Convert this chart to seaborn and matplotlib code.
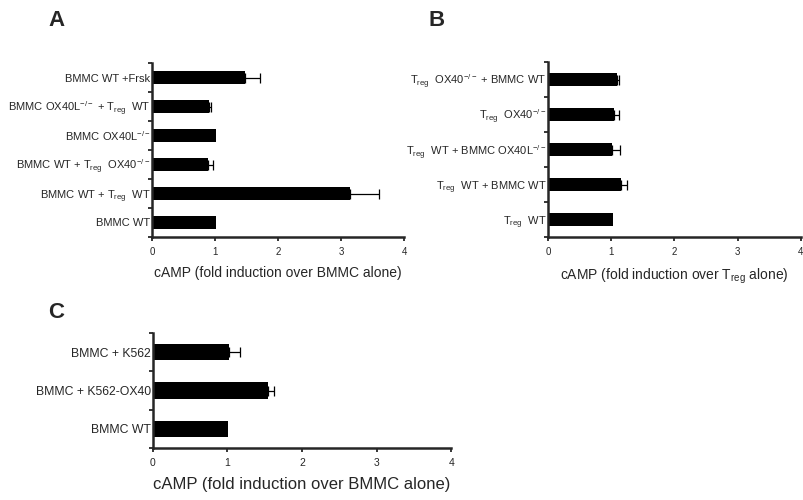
import numpy as np
import pandas as pd
import matplotlib as mpl
mpl.use("Agg")
import matplotlib.pyplot as plt
from matplotlib.ticker import FixedLocator
import seaborn as sns

# ---- data (top to bottom as drawn) ----
labels_a = ['BMMC WT +Frsk',
            r'BMMC OX40L$^{-/-}$ + T$_{\rm reg}$  WT',
            r'BMMC OX40L$^{-/-}$',
            r'BMMC WT + T$_{\rm reg}$  OX40$^{-/-}$',
            r'BMMC WT + T$_{\rm reg}$  WT',
            'BMMC WT']
vals_a = [1.48, 0.90, 1.01, 0.89, 3.14, 1.01]
err_a = [0.24, 0.03, 0.0, 0.08, 0.46, 0.0]

labels_b = [r'T$_{\rm reg}$  OX40$^{-/-}$ + BMMC WT',
            r'T$_{\rm reg}$  OX40$^{-/-}$',
            r'T$_{\rm reg}$  WT + BMMC OX40L$^{-/-}$',
            r'T$_{\rm reg}$  WT + BMMC WT',
            r'T$_{\rm reg}$  WT']
vals_b = [1.09, 1.05, 1.01, 1.16, 1.02]
err_b = [0.04, 0.08, 0.13, 0.09, 0.0]

labels_c = ['BMMC + K562', 'BMMC + K562-OX40', 'BMMC WT']
vals_c = [1.03, 1.54, 1.01]
err_c = [0.14, 0.08, 0.0]

xlabel_a = 'cAMP (fold induction over BMMC alone)'
xlabel_b = r'cAMP (fold induction over T$_{\rm reg}$ alone)'
xlabel_c = 'cAMP (fold induction over BMMC alone)'

sns.set_style("ticks")
plt.rcParams['font.family'] = ['Liberation Sans', 'DejaVu Sans']
plt.rcParams['mathtext.fontset'] = 'custom'
plt.rcParams['mathtext.rm'] = 'Liberation Sans'
plt.rcParams['mathtext.it'] = 'Liberation Sans:italic'
plt.rcParams['mathtext.bf'] = 'Liberation Sans:bold'

fig = plt.figure(figsize=(8.04, 5), dpi=100)


def panel(rect, labels, vals, errs, xlabel, width, lab_fs, tick_fs, xl_fs):
    ax = fig.add_axes(rect)
    df = pd.DataFrame({'cond': labels, 'val': vals})
    sns.barplot(data=df, x='val', y='cond', orient='h', color='black',
                width=width, saturation=1, ax=ax, errorbar=None,
                linewidth=0)
    n = len(labels)
    pos = np.arange(n)
    e = np.array(errs)
    m = e > 0
    ax.errorbar(np.array(vals)[m], pos[m], xerr=[np.zeros(m.sum()), e[m]],
                fmt='none', ecolor='black', elinewidth=0.9, capsize=3.5,
                capthick=0.9)
    ax.set_xlim(0, 4)
    ax.set_ylim(n - 0.5, -0.5)
    ax.set_xticks([0, 1, 2, 3, 4])
    ax.tick_params(axis='x', labelsize=tick_fs, length=3, width=1.3, pad=4)
    ax.tick_params(axis='y', which='major', length=0, labelsize=lab_fs, pad=1)
    ax.yaxis.set_minor_locator(FixedLocator(np.arange(n + 1) - 0.5))
    ax.tick_params(axis='y', which='minor', length=3, width=1.3)
    ax.set_ylabel('')
    ax.set_xlabel(xlabel, fontsize=xl_fs, labelpad=7)
    for s in ['left', 'bottom']:
        ax.spines[s].set_linewidth(1.8)
    sns.despine(ax=ax)
    return ax


panel([152 / 804, 1 - 237 / 500, 252 / 804, 174 / 500], labels_a, vals_a,
      err_a, xlabel_a, 0.45, 8, 7, 10)
panel([548 / 804, 1 - 237 / 500, 253 / 804, 175 / 500], labels_b, vals_b,
      err_b, xlabel_b, 0.37, 8, 7, 10)
panel([152.5 / 804, 1 - 448 / 500, 299 / 804, 115 / 500], labels_c, vals_c,
      err_c, xlabel_c, 0.43, 8.8, 7.5, 12)

fig.text(57 / 804, 1 - 20 / 500, 'A', fontsize=16, fontweight='bold',
         ha='center', va='center')
fig.text(437 / 804, 1 - 20 / 500, 'B', fontsize=16, fontweight='bold',
         ha='center', va='center')
fig.text(56 / 804, 1 - 312 / 500, 'C', fontsize=16, fontweight='bold',
         ha='center', va='center')

plt.savefig('out.png', dpi=100)
